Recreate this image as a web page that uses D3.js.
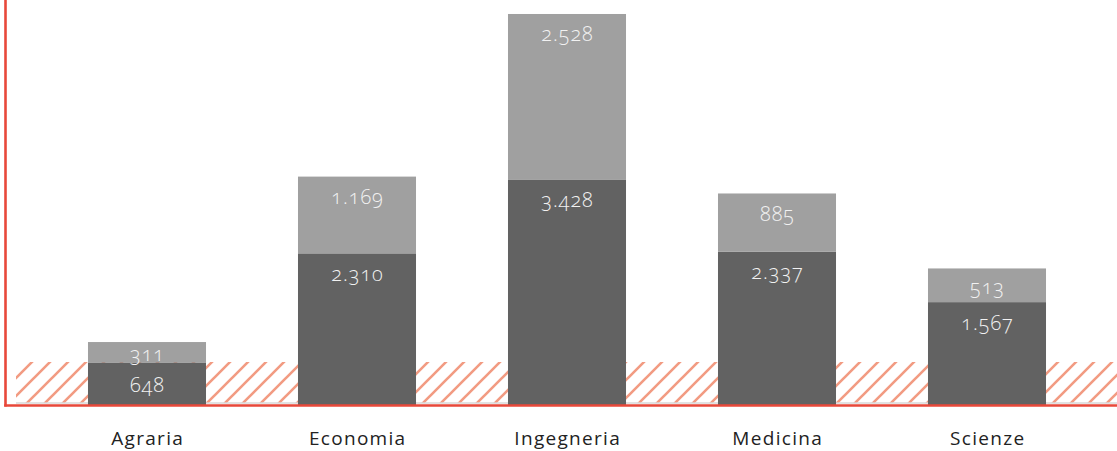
<!DOCTYPE html>
<html>
<head>
<meta charset="utf-8">
<script src="https://cdn.jsdelivr.net/npm/d3@7/dist/d3.min.js"></script>
<style>
  html, body { margin: 0; padding: 0; background: #fff; }
  svg { display: block; }
  .val { font-family: "Open Sans", "Lato", sans-serif; font-size: 20px; fill: #f2f2f2; font-weight: 300; letter-spacing: 1px; font-variant-numeric: oldstyle-nums; font-feature-settings: "onum" 1; }
</style>
</head>
<body>
<svg id="chart" width="1117" height="451"></svg>
<script>
const categories = ["Agraria", "Economia", "Ingegneria", "Medicina", "Scienze"];
const darkValues = [648, 2310, 3428, 2337, 1567];
const lightValues = [311, 1169, 2528, 885, 513];
const valueLabelsDark = ["648", "2.310", "3.428", "2.337", "1.567"];
const valueLabelsLight = ["311", "1.169", "2.528", "885", "513"];

const W = 1117, H = 451;
const baseY = 405;
const svg = d3.select("#chart");

const x = d3.scaleBand().domain(categories).range([42, 1092]).paddingInner(0.438).paddingOuter(0.219);
const y = d3.scaleLinear().domain([0, 6169]).range([baseY, 0]);

// hatch pattern
const defs = svg.append("defs");
const pat = defs.append("pattern")
  .attr("id", "hatch").attr("patternUnits", "userSpaceOnUse")
  .attr("width", 18).attr("height", 18)
  .attr("patternTransform", "translate(16,0)");
pat.append("path")
  .attr("d", "M-4,22 L22,-4 M-4,4 L4,-4 M14,22 L22,14")
  .attr("stroke", "#f29b82").attr("stroke-width", 2.6).attr("fill", "none");

svg.append("rect")
  .attr("x", 16).attr("y", 362).attr("width", W - 16).attr("height", 41)
  .attr("fill", "url(#hatch)");

svg.append("line").attr("x1", 16).attr("x2", W).attr("y1", 403).attr("y2", 403)
  .attr("stroke", "#d8d8d8").attr("stroke-width", 1.5);

const g = svg.append("g");
const data = categories.map((c, i) => ({ c, d: darkValues[i], l: lightValues[i], ld: valueLabelsDark[i], ll: valueLabelsLight[i] }));

g.selectAll("rect.dark").data(data).join("rect").attr("class", "dark")
  .attr("x", d => x(d.c)).attr("width", x.bandwidth())
  .attr("y", d => y(d.d)).attr("height", d => y(0) - y(d.d))
  .attr("fill", "#626262");
g.selectAll("rect.light").data(data).join("rect").attr("class", "light")
  .attr("x", d => x(d.c)).attr("width", x.bandwidth())
  .attr("y", d => y(d.d + d.l)).attr("height", d => y(d.d) - y(d.d + d.l))
  .attr("fill", "#a0a0a0");

function labelY(top, bottom) {
  const h = bottom - top;
  return h < 46 ? (top + bottom) / 2 + 1 : top + 20;
}

g.selectAll("text.vd").data(data).join("text").attr("class", "val vd")
  .attr("x", d => x(d.c) + x.bandwidth() / 2 + 0.5)
  .attr("y", d => labelY(y(d.d), y(0)))
  .attr("text-anchor", "middle").attr("dominant-baseline", "central")
  .text(d => d.ld);
g.selectAll("text.vl").data(data).join("text").attr("class", "val vl")
  .attr("x", d => x(d.c) + x.bandwidth() / 2 + 0.5)
  .attr("y", d => labelY(y(d.d + d.l), y(d.d)))
  .attr("text-anchor", "middle").attr("dominant-baseline", "central")
  .text(d => d.ll);

const xAxis = d3.axisBottom(x).tickSize(0).tickPadding(0);
const ax = svg.append("g").attr("transform", `translate(0,${baseY})`).call(xAxis);
ax.select(".domain").remove();
ax.selectAll("text").attr("y", 40).attr("dy", null).attr("dx", 0.7)
  .style("font-family", "'Open Sans', sans-serif").style("font-size", "19px")
  .style("font-weight", "400").style("letter-spacing", "1.3px").style("fill", "#222");

svg.append("line").attr("x1", 5.5).attr("x2", 5.5).attr("y1", 0).attr("y2", 406.5)
  .attr("stroke", "#e8483a").attr("stroke-width", 2.6);
svg.append("line").attr("x1", 4.2).attr("x2", W).attr("y1", 405.5).attr("y2", 405.5)
  .attr("stroke", "#e8483a").attr("stroke-width", 2.6);
</script>
</body>
</html>
